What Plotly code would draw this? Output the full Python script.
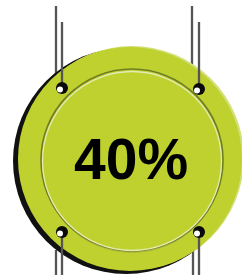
import plotly.graph_objects as go

# data
percent_values = [40]
labels = [f"{v}%" for v in percent_values]

W, H = 242, 275
GREEN = "#BFD12F"
STRING = "#555555"

fig = go.Figure()
shapes = []

def circle(cx, cy, r, fill, line_color=None, line_width=0):
    return dict(type="circle", xref="x", yref="y", x0=cx - r, x1=cx + r, y0=cy - r, y1=cy + r,
                fillcolor=fill, line=dict(color=line_color or fill, width=line_width))

def seg(x0, y0, x1, y1, color=STRING, width=2.3):
    return dict(type="line", xref="x", yref="y", x0=x0, y0=y0, x1=x1, y1=y1,
                line=dict(color=color, width=width))

# back strings (behind disc)
shapes.append(seg(56, 6, 56, 80))
shapes.append(seg(192, 6, 192, 70))
shapes.append(seg(56, 250, 56, 276))
shapes.append(seg(193, 250, 193, 276))

# shadow
shapes.append(circle(126, 161, 113, "#111111"))
# light rim
shapes.append(circle(132, 158, 112, "#D3E07A"))
# main disc
shapes.append(circle(130, 159, 112, GREEN))
# inner ring: darker shade + light highlight
shapes.append(circle(132, 162, 91, "#A9B83A", "#A9B83A", 0))
shapes.append(circle(132, 160, 91, "rgba(0,0,0,0)", "#6F7D22", 1.6))
shapes.append(circle(132, 161, 89.5, GREEN, "#E4EBB0", 1.3))

# front strings to holes
shapes.append(seg(62, 22, 62, 86))
shapes.append(seg(199, 22, 199, 87))
shapes.append(seg(62, 234, 62, 276))
shapes.append(seg(199, 234, 199, 276))

# holes
for hx, hy in [(62, 88), (199, 89), (62, 232), (199, 232)]:
    shapes.append(circle(hx, hy, 6, "#0A0A0A"))
    shapes.append(circle(hx - 2, hy + 1.5, 3, "#FFFFFF"))

fig.update_layout(shapes=shapes)

fig.add_annotation(x=131, y=159, xref="x", yref="y", text=f"<b>{labels[0]}</b>",
                   showarrow=False, font=dict(family="Liberation Sans, Arial", size=57, color="#000000"))

fig.update_xaxes(range=[0, W], visible=False, fixedrange=True)
fig.update_yaxes(range=[H, 0], visible=False, fixedrange=True)
fig.update_layout(width=W, height=H, autosize=False, margin=dict(l=0, r=0, t=0, b=0),
                  paper_bgcolor="white", plot_bgcolor="white", showlegend=False)

fig.write_html("out.html", config={"displayModeBar": False},
               post_script="document.body.style.margin='0';document.body.style.overflow='hidden';")
